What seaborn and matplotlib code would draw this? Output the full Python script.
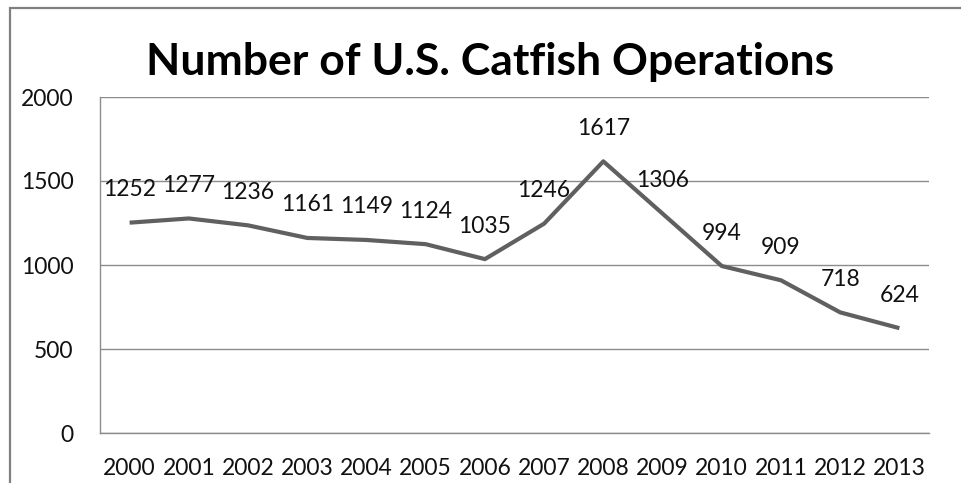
import matplotlib
matplotlib.use("Agg")
import matplotlib.pyplot as plt
import matplotlib.patches as mpatches
import seaborn as sns
import pandas as pd
import numpy as np

years = ["2000", "2001", "2002", "2003", "2004", "2005", "2006",
         "2007", "2008", "2009", "2010", "2011", "2012", "2013"]
operations = [1252, 1277, 1236, 1161, 1149, 1124, 1035,
              1246, 1617, 1306, 994, 909, 718, 624]
y_ticks = [0, 500, 1000, 1500, 2000]
title = "Number of U.S. Catfish Operations"

sns.set_theme(style="white")
plt.rcParams["font.family"] = ["Lato", "DejaVu Sans"]

W, H = 961, 483
fig = plt.figure(figsize=(W / 100, H / 100), dpi=100)
ax = fig.add_axes([100 / W, 1 - 433 / H, (929 - 100) / W, (433 - 97) / H])

df = pd.DataFrame({"year": years, "ops": operations})
df["pos"] = np.arange(len(years))
sns.lineplot(data=df, x="pos", y="ops", ax=ax, color="#606060",
             linewidth=3.0, solid_capstyle="butt", solid_joinstyle="round")

grid_c = "#8c8c8c"
txt_c = "#111111"
ax.set_xlim(-0.5, len(years) - 0.5)
ax.set_ylim(0, 2000)
ax.set_yticks(y_ticks)
ax.set_yticklabels([str(v) for v in y_ticks], fontsize=16.5, color=txt_c)
ax.set_xticks(np.arange(len(years)))
ax.set_xticklabels(years, fontsize=16.5, color=txt_c)
ax.set_xticks(np.arange(len(years) + 1) - 0.5, minor=True)
ax.tick_params(axis="x", which="major", length=0, pad=18)
ax.tick_params(axis="x", which="minor", length=6, width=1, color=grid_c,
               direction="out")
ax.tick_params(axis="y", which="major", length=6, width=1, color=grid_c,
               direction="out", pad=13)
ax.yaxis.grid(True, color=grid_c, linewidth=1)
ax.set_axisbelow(True)
ax.set_xlabel("")
ax.set_ylabel("")
for s in ["top", "right"]:
    ax.spines[s].set_visible(False)
for s in ["left", "bottom"]:
    ax.spines[s].set_color(grid_c)
    ax.spines[s].set_linewidth(1)

for x, v in zip(df["pos"], operations):
    ax.annotate(str(v), (x, v), xytext=(0, 33), textcoords="offset pixels",
                ha="center", va="center", fontsize=16.5, color=txt_c)

fig.text(490 / W, 1 - 62 / H, title, ha="center", va="center",
         fontsize=32, fontweight="bold", color="#000000")

# chart frame
fig.patches.append(mpatches.Rectangle((10 / W, -0.1), 1.2, 1 - 8 / H + 0.1,
                                      transform=fig.transFigure, fill=False,
                                      edgecolor="#808080", linewidth=1.6))

fig.savefig("out.png", dpi=100, facecolor="white")
